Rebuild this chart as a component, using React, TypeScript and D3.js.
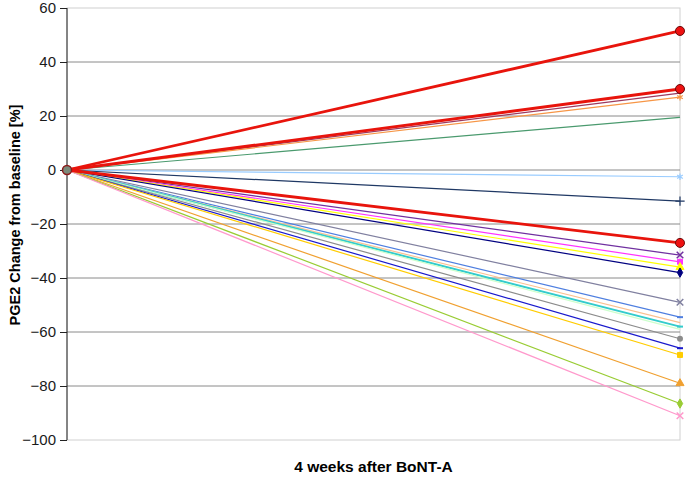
import { useEffect, useRef } from 'react';
import * as d3 from 'd3';

// change from baseline [%] at 4 weeks, one entry per patient
const endValues = [51.5, 30, 28.5, 27, 19.5, -2.5, -11.5, -27, -31.5, -34, -36, -38, -49, -54.5, -56.5, -58, -59, -62.5, -66, -68.5, -79, -86.5, -91];
const lineColors = ['#e8140c', '#e8140c', '#9c3a5e', '#f79646', '#4a9a6e', '#99ccff', '#1f3864', '#e8140c', '#7030a0', '#ff33ff', '#ffff00', '#000080', '#8080a0', '#4f7fe0', '#fac090', '#33cccc', '#ccffcc', '#8c8c8c', '#1a1acc', '#ffcc00', '#f0a030', '#99cc33', '#ff99cc'];
const markers = ['circle', 'circle', 'none', 'star', 'none', 'star', 'plus', 'circle', 'x', 'square', 'triangle', 'diamond', 'x', 'dash', 'none', 'dash', 'none', 'circle', 'dash', 'square', 'triangle', 'diamond', 'x'];
const timepoints = ['baseline', '4 weeks after BoNT-A'];
const yTicks = [60, 40, 20, 0, -20, -40, -60, -80, -100];

const W = 685, H = 477;
const M = { left: 67, right: 5, top: 8, bottom: 37 };

const App = () => {
  const svgRef = useRef<SVGSVGElement>(null);

  useEffect(() => {
    const svg = d3.select(svgRef.current);
    svg.selectAll('*').remove();

    const x = d3.scalePoint().domain(timepoints).range([M.left, W - M.right]);
    const y = d3.scaleLinear().domain([-100, 60]).range([H - M.bottom, M.top]);

    const g = svg.append('g');

    // frame + gridlines
    g.append('rect')
      .attr('x', M.left).attr('y', M.top)
      .attr('width', W - M.right - M.left).attr('height', H - M.bottom - M.top)
      .attr('fill', 'none').attr('stroke', '#d0d0d0');

    g.selectAll('.grid')
      .data(yTicks.filter(t => t !== 60 && t !== -100))
      .enter().append('line')
      .attr('x1', M.left).attr('x2', W - M.right)
      .attr('y1', d => y(d)).attr('y2', d => y(d))
      .attr('stroke', '#8a8a8a').attr('stroke-width', 1);

    const yAxis = d3.axisLeft(y).tickValues(yTicks).tickSize(7).tickPadding(4);
    const ax = g.append('g').attr('transform', `translate(${M.left},0)`).call(yAxis);
    ax.select('.domain').attr('stroke', '#222').attr('d', `M0,${M.top}V${H - M.bottom}`);
    ax.selectAll('.tick line').attr('stroke', '#222');
    ax.selectAll('.tick text')
      .attr('font-family', 'Liberation Sans, Arial, sans-serif')
      .attr('font-size', 15).attr('fill', '#1a1a1a');

    const line = d3.line<number>()
      .x((_, i) => x(timepoints[i]) as number)
      .y(d => y(d));

    const series = endValues.map((v, i) => ({ v, color: lineColors[i], marker: markers[i], thick: markers[i] === 'circle' && lineColors[i] === '#e8140c' }));
    const order = [...series.filter(s => !s.thick), ...series.filter(s => s.thick)];

    order.forEach(s => {
      g.append('path')
        .attr('d', line([0, s.v]))
        .attr('fill', 'none')
        .attr('stroke', s.color)
        .attr('stroke-width', s.thick ? 2.8 : (s.color === '#33cccc' ? 2 : 1.2));
    });

    const x1 = x(timepoints[1]) as number;
    order.forEach(s => {
      const cy = y(s.v);
      const mg = g.append('g').attr('transform', `translate(${x1},${cy})`);
      const sym = (type: d3.SymbolType, size: number) =>
        mg.append('path').attr('d', d3.symbol().type(type).size(size)()).attr('fill', s.color).attr('stroke', s.color);
      if (s.marker === 'circle') {
        if (s.thick) {
          mg.append('circle').attr('r', 4.5).attr('fill', '#ee1111').attr('stroke', '#6a0a0a').attr('stroke-width', 1);
        } else {
          mg.append('circle').attr('r', 3).attr('fill', s.color);
        }
      } else if (s.marker === 'square') sym(d3.symbolSquare, 25);
      else if (s.marker === 'triangle') sym(d3.symbolTriangle, 28);
      else if (s.marker === 'diamond') sym(d3.symbolDiamond, 25);
      else if (s.marker === 'x') sym(d3.symbolTimes, 30).attr('fill', 'none').attr('stroke-width', 1.5);
      else if (s.marker === 'star') sym(d3.symbolAsterisk, 30).attr('fill', 'none').attr('stroke-width', 1.2);
      else if (s.marker === 'plus') sym(d3.symbolPlus, 30).attr('fill', 'none').attr('stroke-width', 1.2);
      else if (s.marker === 'dash') mg.append('line').attr('x1', -3).attr('x2', 3).attr('stroke', s.color).attr('stroke-width', 2);
    });

    // shared baseline marker
    g.append('circle')
      .attr('cx', x(timepoints[0]) as number).attr('cy', y(0)).attr('r', 4.5)
      .attr('fill', '#7a8a7a').attr('stroke', '#8b1a1a').attr('stroke-width', 1.5);

    // axis titles
    svg.append('text')
      .attr('transform', `translate(20,215) rotate(-90)`)
      .attr('text-anchor', 'middle')
      .attr('font-family', 'Liberation Sans, Arial, sans-serif')
      .attr('font-weight', 'bold').attr('font-size', 14.5)
      .text('PGE2 Change from baseline [%]');

    svg.append('text')
      .attr('x', (M.left + W - M.right) / 2).attr('y', 472)
      .attr('text-anchor', 'middle')
      .attr('font-family', 'Liberation Sans, Arial, sans-serif')
      .attr('font-weight', 'bold').attr('font-size', 15.5)
      .text(timepoints[1]);
  }, []);

  return (
    <svg ref={svgRef} width={W} height={H} style={{ position: 'absolute', left: 0, top: 0, background: '#fff' }} />
  );
};

export default App;
